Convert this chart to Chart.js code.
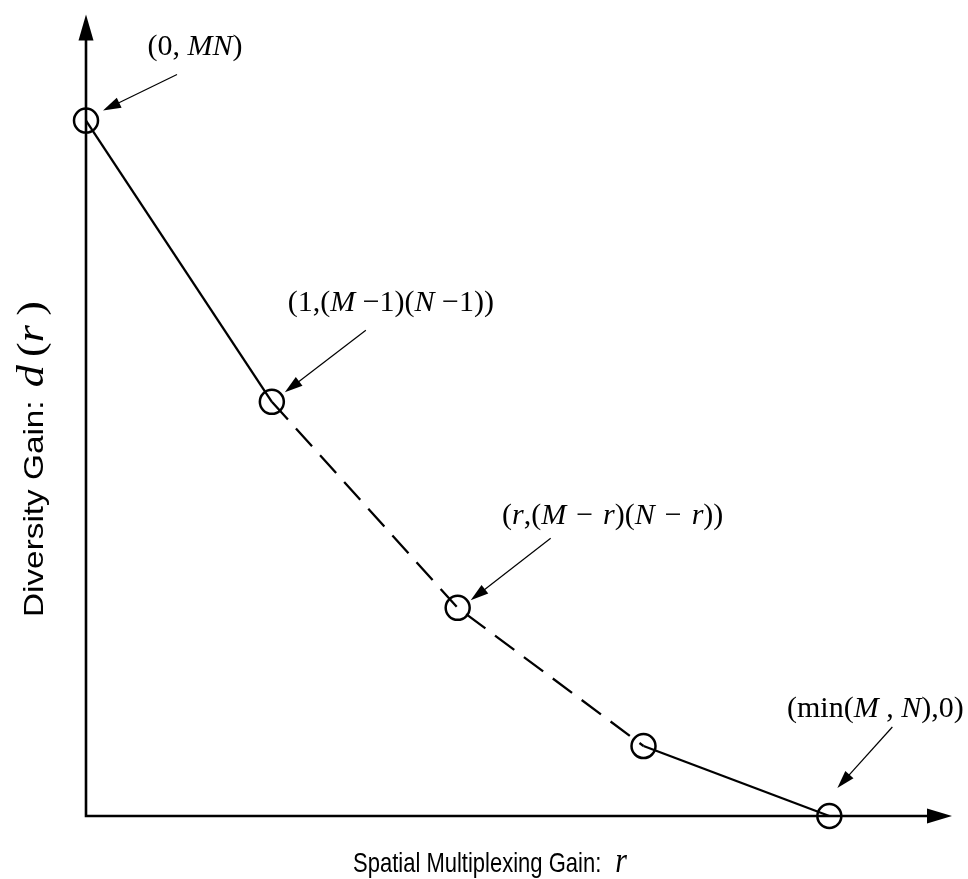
<!DOCTYPE html>
<html>
<head>
<meta charset="utf-8">
<title>Diversity–multiplexing tradeoff</title>
<script src="https://cdn.jsdelivr.net/npm/chart.js@4/dist/chart.umd.min.js"></script>
<style>
  html, body { margin: 0; padding: 0; background: #fff; }
  canvas { display: block; }
</style>
</head>
<body>
<canvas id="dmt" width="968" height="879"></canvas>
<script>
// Spatial multiplexing gain r at each corner point of the tradeoff curve
const multiplexingGain = [0, 1, 2, 3, 4];
// Diversity gain d(r) at those points (plot units)
const diversityGain = [16, 9.53, 4.79, 1.61, 0];
// Segments (by index of their first point) drawn dashed
const dashedSegments = [1, 2];
// Axis extents (the axis arrows end here)
const xMax = 4.66;
const yMax = 18.44;

// Axis titles
const xTitle = 'Spatial Multiplexing Gain:';
const yTitle = 'Diversity Gain:';

// Point annotations: which point, and the label as [text, italic] runs
const annotationPoints = [0, 1, 2, 4];
const annotationRuns = [
  [['(0, ', 0], ['MN', 1], [')', 0]],
  [['(1,(', 0], ['M', 1], [' \u22121)(', 0], ['N', 1], [' \u22121))', 0]],
  [['(', 0], ['r', 1], [',(', 0], ['M', 1], ['\u2004\u2212\u2004', 0], ['r', 1], [')(', 0], ['N', 1], ['\u2004\u2212\u2004', 0], ['r', 1], ['))', 0]],
  [['(min(', 0], ['M', 1], [' , ', 0], ['N', 1], ['),0)', 0]]
];

// Pixel offsets from each annotated point: label centre/baseline, arrow tip, arrow tail
const annotationLayout = [
  { label: [109, -66], tip: [17, -10], tail: [91, -46] },
  { label: [119, -91], tip: [13, -9.5], tail: [94, -71.5] },
  { label: [155, -84], tip: [13, -7.5], tail: [93, -69.5] },
  { label: [46, -99],  tip: [8, -28],  tail: [63, -89] }
];

const SERIF = '"Liberation Serif", "Times New Roman", serif';
const SANS = '"Liberation Sans", Arial, Helvetica, sans-serif';

// Draw a row of differently styled text runs; sx/sy stretch the glyphs
function drawRuns(ctx, runs, x, y, align, sx, sy) {
  ctx.save();
  const widths = runs.map(r => {
    ctx.font = r.font;
    return ctx.measureText(r.text).width + (r.gap || 0);
  });
  const total = widths.reduce((a, b) => a + b, 0);
  ctx.translate(x, y);
  ctx.scale(sx || 1, sy || 1);
  ctx.fillStyle = '#000';
  ctx.textAlign = 'left';
  ctx.textBaseline = 'alphabetic';
  let cx = align === 'center' ? -total / 2 : 0;
  runs.forEach((r, i) => {
    ctx.font = r.font;
    ctx.fillText(r.text, cx, 0);
    cx += widths[i];
  });
  ctx.restore();
}

function filledArrowHead(ctx, tipX, tipY, fromX, fromY, len, half) {
  const a = Math.atan2(tipY - fromY, tipX - fromX);
  const bx = tipX - len * Math.cos(a), by = tipY - len * Math.sin(a);
  ctx.beginPath();
  ctx.moveTo(tipX, tipY);
  ctx.lineTo(bx + half * Math.sin(a), by - half * Math.cos(a));
  ctx.lineTo(bx - half * Math.sin(a), by + half * Math.cos(a));
  ctx.closePath();
  ctx.fill();
}

// Axes with arrowheads at the origin corner of the plot area
const arrowAxes = {
  id: 'arrowAxes',
  beforeDatasetsDraw(chart) {
    const { ctx, chartArea: { left, right, top, bottom } } = chart;
    ctx.save();
    ctx.strokeStyle = '#000';
    ctx.fillStyle = '#000';
    ctx.lineWidth = 2.6;
    ctx.lineCap = 'butt';
    ctx.beginPath();
    ctx.moveTo(left, bottom + 1.3);
    ctx.lineTo(left, top + 20);
    ctx.moveTo(left - 1.3, bottom);
    ctx.lineTo(right - 20, bottom);
    ctx.stroke();
    filledArrowHead(ctx, left, top, left, bottom, 26, 7.5);
    filledArrowHead(ctx, right, bottom, left, bottom, 25, 7.5);
    ctx.restore();
  },
  afterDraw(chart) {
    const { ctx, chartArea: { left, bottom } } = chart;
    // horizontal title
    drawRuns(ctx, [
      { text: xTitle, font: '22px ' + SANS, gap: 14 },
      { text: 'r', font: 'italic 30px ' + SERIF }
    ], left + 267, bottom + 56, 'left', 1, 1.22);
    // vertical title
    ctx.save();
    ctx.translate(43, 459);
    ctx.rotate(-Math.PI / 2);
    drawRuns(ctx, [
      { text: yTitle, font: '28px ' + SANS, gap: 11 },
      { text: 'd', font: 'italic 37px ' + SERIF, gap: 7 },
      { text: '(', font: '37px ' + SERIF },
      { text: 'r', font: 'italic 37px ' + SERIF, gap: 8 },
      { text: ')', font: '37px ' + SERIF }
    ], 0, 0, 'center', 1.19, 1);
    ctx.restore();
  }
};

// Arrows and coordinate labels pointing at the corner points
const pointAnnotations = {
  id: 'pointAnnotations',
  afterDatasetsDraw(chart) {
    const { ctx } = chart;
    const pts = chart.getDatasetMeta(0).data;
    ctx.save();
    ctx.strokeStyle = '#000';
    ctx.fillStyle = '#000';
    annotationPoints.forEach((idx, k) => {
      const p = pts[idx];
      const lay = annotationLayout[k];
      const tx = p.x + lay.tip[0], ty = p.y + lay.tip[1];
      const fx = p.x + lay.tail[0], fy = p.y + lay.tail[1];
      const a = Math.atan2(ty - fy, tx - fx);
      ctx.lineWidth = 1.2;
      ctx.beginPath();
      ctx.moveTo(fx, fy);
      ctx.lineTo(tx - 12 * Math.cos(a), ty - 12 * Math.sin(a));
      ctx.stroke();
      filledArrowHead(ctx, tx, ty, fx, fy, 18, 5.5);
      const runs = annotationRuns[k].map(([t, it]) => ({
        text: t, font: (it ? 'italic ' : '') + '30px ' + SERIF
      }));
      drawRuns(ctx, runs, p.x + lay.label[0], p.y + lay.label[1], 'center', 1, 1);
    });
    ctx.restore();
  }
};

new Chart(document.getElementById('dmt'), {
  type: 'line',
  data: {
    datasets: [{
      data: multiplexingGain.map((x, i) => ({ x, y: diversityGain[i] })),
      borderColor: '#000',
      borderWidth: 2.3,
      tension: 0,
      fill: false,
      clip: false,
      pointStyle: 'circle',
      pointRadius: 12,
      pointBorderWidth: 2.5,
      pointBorderColor: '#000',
      pointBackgroundColor: 'rgba(0,0,0,0)',
      segment: {
        borderDash: c => dashedSegments.includes(c.p0DataIndex) ? [24, 12] : undefined
      }
    }]
  },
  options: {
    responsive: false,
    animation: false,
    events: [],
    layout: { padding: { left: 86, top: 14, right: 16, bottom: 63 } },
    scales: {
      x: { type: 'linear', min: 0, max: xMax, display: false },
      y: { type: 'linear', min: 0, max: yMax, display: false }
    },
    plugins: {
      legend: { display: false },
      tooltip: { enabled: false },
      title: { display: false }
    }
  },
  plugins: [arrowAxes, pointAnnotations]
});
</script>
</body>
</html>
